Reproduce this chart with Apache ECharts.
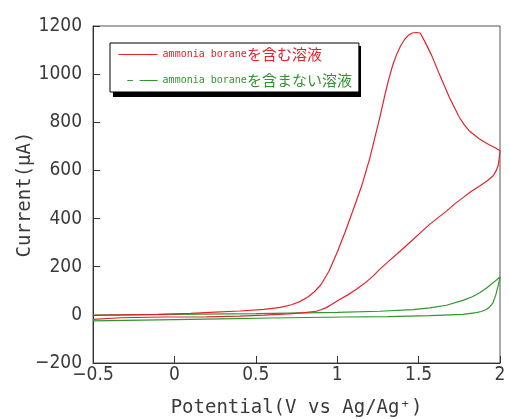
<!DOCTYPE html>
<html>
<head>
<meta charset="utf-8">
<script src="https://cdn.jsdelivr.net/npm/echarts@6/dist/echarts.min.js"></script>
<style>
  html, body { margin: 0; padding: 0; background: #fff; }
  #chart { width: 509px; height: 419px; }
</style>
</head>
<body>
<div id="chart"></div>
<script>
// Cyclic voltammograms: current (µA) versus potential (V vs Ag/Ag+)
const seriesNames = ['ammonia boraneを含む溶液', 'ammonia boraneを含まない溶液'];

// With ammonia borane: anodic sweep then return sweep
const redForwardV = [-0.5, -0.3, -0.1, 0.1, 0.25, 0.4, 0.55, 0.65, 0.72, 0.77,
  0.82, 0.86, 0.9, 0.95, 1.0, 1.05, 1.1, 1.15, 1.2, 1.26,
  1.29, 1.315, 1.34, 1.365, 1.39, 1.415, 1.44, 1.46, 1.485, 1.51,
  1.54, 1.58, 1.63, 1.69, 1.75, 1.78, 1.81, 1.87, 1.93, 1.97, 2.0];
const redForwardI = [-2, 0, 2, 6, 11, 16, 23, 31, 42, 55,
  74, 96, 125, 182, 260, 346, 440, 535, 650, 815,
  905, 975, 1035, 1082, 1118, 1145, 1163, 1171, 1173, 1171,
  1133, 1078, 996, 902, 821, 790, 765, 733, 708, 694, 682];
const redReverseV = [1.995, 1.988, 1.975, 1.957, 1.92, 1.875, 1.82, 1.773, 1.72, 1.671,
  1.62, 1.568, 1.52, 1.466, 1.415, 1.364, 1.31, 1.261, 1.22, 1.17,
  1.118, 1.065, 1.015, 0.97, 0.933, 0.9, 0.872, 0.8, 0.7, 0.55,
  0.4, 0.2, -0.06, -0.33, -0.5];
const redReverseI = [650, 618, 597, 577, 556, 535, 511, 487, 460, 431,
  404, 376, 347, 313, 282, 251, 219, 189, 161, 132,
  106, 83, 64, 45, 30, 21, 15, 9, 4, -1,
  -5, -8, -9, -12, -19];

// Without ammonia borane (background electrolyte)
const greenForwardV = [-0.5, 0, 0.5, 1.0, 1.26, 1.466, 1.568, 1.671, 1.773, 1.83, 1.875, 1.92, 1.957, 1.98, 2.0];
const greenForwardI = [-1, 2, 5, 10, 15, 22, 29, 40, 60, 75, 92, 113, 133, 146, 158];
const greenReverseV = [1.995, 1.988, 1.975, 1.957, 1.935, 1.916, 1.885, 1.855, 1.773, 1.568, 1.31, 1.044, 0.593, 0.286, 0, -0.5];
const greenReverseI = [140, 119, 85, 50, 32, 22, 14, 9, 2, -3, -7, -9, -13, -17, -20, -25];

const xTickValues = [-0.5, 0, 0.5, 1, 1.5, 2];
const xTickLabels = ['-0.5', '0', '0.5', '1', '1.5', '2'];
const yTickValues = [-200, 0, 200, 400, 600, 800, 1000, 1200];
const yTickLabels = ['-200', '0', '200', '400', '600', '800', '1000', '1200'];

function pairs(vs, is) { return vs.map((v, k) => [v, is[k]]); }
function tickText(values, labels) {
  return v => {
    const k = values.findIndex(t => Math.abs(t - v) < 1e-9);
    return k < 0 ? '' : labels[k].replace('-', '\u2212');
  };
}

const redData = pairs(redForwardV, redForwardI).concat(pairs(redReverseV, redReverseI));
const greenData = pairs(greenForwardV, greenForwardI).concat(pairs(greenReverseV, greenReverseI));

const RED = '#e3232c';
const GREEN = '#2f962f';
const INK = '#3a3a3a';
const tickFont = "'DejaVu Sans Condensed', 'DejaVu Sans', sans-serif";
const monoFont = "'DejaVu Sans Mono', monospace";
const cjkFont = "'Noto Sans CJK JP', sans-serif";

// Legend box placement; a solid black offset panel sits behind it as a drop shadow
const legendBox = { left: 110, top: 43, width: 248, height: 51, shadow: 3 };

const chart = echarts.init(document.getElementById('chart'), null, { renderer: 'canvas' });
chart.setOption({
  animation: false,
  backgroundColor: '#fff',
  grid: {
    left: 93, right: 9, top: 26, bottom: 56,
    outerBoundsMode: 'none', containLabel: false,
    show: true, borderColor: '#555', borderWidth: 1, backgroundColor: 'transparent'
  },
  graphic: [{
    type: 'rect', z: 0, silent: true,
    shape: {
      x: legendBox.left + legendBox.shadow, y: legendBox.top + legendBox.shadow,
      width: legendBox.width, height: legendBox.height
    },
    style: { fill: '#000' }
  }],
  xAxis: {
    type: 'value', min: -0.5, max: 2, interval: 0.5,
    axisLine: { show: true, onZero: false, lineStyle: { color: '#333', width: 1 } },
    axisTick: { show: true, inside: true, length: 7, lineStyle: { color: '#333' } },
    splitLine: { show: false },
    axisLabel: {
      formatter: tickText(xTickValues, xTickLabels),
      fontFamily: tickFont, fontSize: 19, color: INK, margin: 3
    },
    name: 'Potential(V vs Ag/Ag\u207A)',
    nameLocation: 'middle', nameGap: 36, nameMoveOverlap: false,
    nameTextStyle: { fontFamily: monoFont, fontSize: 19, color: INK }
  },
  yAxis: {
    type: 'value', min: -200, max: 1200, interval: 200,
    axisLine: { show: true, onZero: false, lineStyle: { color: '#333', width: 1 } },
    axisTick: { show: true, inside: true, length: 7, lineStyle: { color: '#333' } },
    splitLine: { show: false },
    axisLabel: {
      formatter: tickText(yTickValues, yTickLabels),
      fontFamily: tickFont, fontSize: 19, color: INK, margin: 11
    },
    name: 'Current(\u03BCA)',
    nameLocation: 'middle', nameGap: 58, nameRotate: 90, nameMoveOverlap: false,
    nameTextStyle: { fontFamily: monoFont, fontSize: 19, color: INK }
  },
  legend: {
    left: legendBox.left, top: legendBox.top, orient: 'vertical',
    padding: [4, 7, 4, 8], itemGap: 11,
    itemWidth: 39, itemHeight: 14,
    backgroundColor: '#fff', borderColor: '#000', borderWidth: 1,
    selectedMode: false,
    itemStyle: { opacity: 0 },
    data: [
      { name: seriesNames[0], lineStyle: { width: 1.2 } },
      { name: seriesNames[1], lineStyle: { width: 1.2, type: [0.01, 8.7, 5.6, 6.7, 18, 100] } }
    ],
    formatter: name => {
      const cut = name.indexOf('を');
      const key = name === seriesNames[0] ? 'r' : 'g';
      return '{' + key + 'a|' + name.slice(0, cut) + '}{' + key + 'b|' + name.slice(cut) + '}';
    },
    textStyle: {
      rich: {
        ra: { fontFamily: monoFont, fontSize: 10, color: RED, lineHeight: 16 },
        rb: { fontFamily: cjkFont, fontSize: 15, color: RED, lineHeight: 16 },
        ga: { fontFamily: monoFont, fontSize: 10, color: GREEN, lineHeight: 16 },
        gb: { fontFamily: cjkFont, fontSize: 15, color: GREEN, lineHeight: 16 }
      }
    }
  },
  series: [
    {
      name: seriesNames[1], type: 'line', data: greenData,
      symbol: 'none', smooth: false, z: 2,
      lineStyle: { color: GREEN, width: 1.2 }, itemStyle: { color: GREEN }
    },
    {
      name: seriesNames[0], type: 'line', data: redData,
      symbol: 'none', smooth: false, z: 3,
      lineStyle: { color: RED, width: 1.2 }, itemStyle: { color: RED }
    }
  ]
});
</script>
</body>
</html>
